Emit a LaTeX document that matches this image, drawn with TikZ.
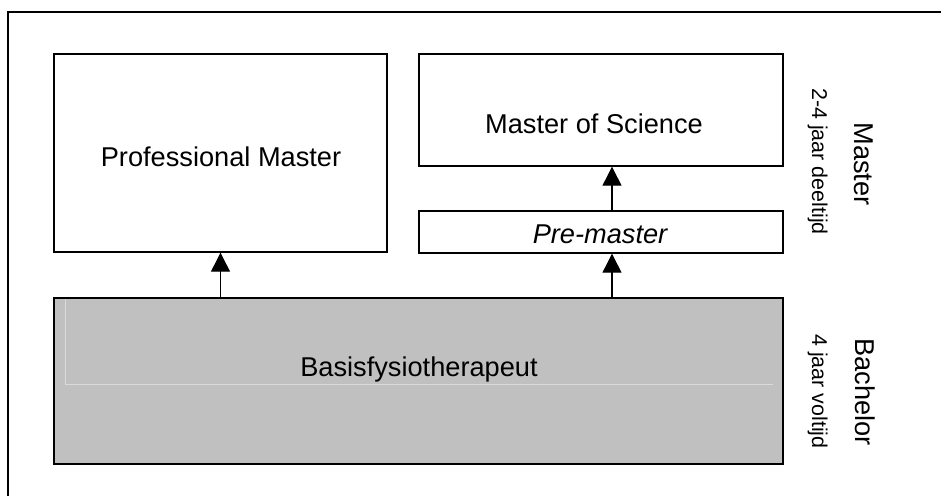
\documentclass[tikz,border=0pt]{standalone}
\usepackage{fontspec}
\setmainfont{Liberation Sans}
\usetikzlibrary{arrows.meta}
\definecolor{bachgray}{HTML}{C0C0C0}
\definecolor{faintgray}{HTML}{DADADA}
\begin{document}
\begin{tikzpicture}[x=0.5pt, y=-0.5pt]

    \tikzset{boxstyle/.style={draw, line width=0.7pt, inner sep=0pt},
             arrowstyle/.style={line width=0.6pt, -{Triangle[width=9.5pt,length=9.5pt]}},
             bigtext/.style={font=\fontsize{13.6}{16}\selectfont, inner sep=0pt},
             smalltext/.style={font=\fontsize{10.7}{13}\selectfont, inner sep=0pt}}
    \useasboundingbox (0,0) rectangle (941,496);

    % kader
    \draw[line width=0.7pt] (941,12) -- (8,12) -- (8,496);

    \node[boxstyle, minimum width=166.5pt, minimum height=99pt] (pm) at (220.5,153) {};
    \node[boxstyle, minimum width=182pt, minimum height=56pt] (msc) at (601,110) {};
    \node[boxstyle, minimum width=182pt, minimum height=21pt] (pre) at (601,232) {};
    \node[boxstyle, fill=bachgray, minimum width=364.5pt, minimum height=83pt] (bach) at (418.5,381) {};
    \draw[faintgray, line width=0.5pt] (773,384) -- (65,384) -- (65,299);

    \node[bigtext, anchor=base] (pmtext) at (221,167) {Professional Master};
    \node[bigtext, anchor=base] (msctext) at (594,134) {Master of Science};
    \node[bigtext, anchor=base] (pretext) at (600,244) {\itshape Pre-master};
    \node[bigtext, anchor=base] (bachtext) at (419,376) {Basisfysiotherapeut};

    % zijlabels
    \node[bigtext, rotate=-90, anchor=base west] (master) at (854,122) {Master};
    \node[smalltext, rotate=-90, anchor=base west] (deeltijd) at (812,88) {2-4 jaar deeltijd};
    \node[bigtext, rotate=-90, anchor=base west] (bachelor) at (855,338) {Bachelor};
    \node[smalltext, rotate=-90, anchor=base west] (voltijd) at (812,334) {4 jaar voltijd};

    \coordinate (ax) at (612,0);
    \draw[arrowstyle] (bach.north -| pm.south) -- (pm.south);
    \draw[arrowstyle] (bach.north -| ax) -- (pre.south -| ax);
    \draw[arrowstyle] (pre.north -| ax) -- (msc.south -| ax);

\end{tikzpicture}
\end{document}
